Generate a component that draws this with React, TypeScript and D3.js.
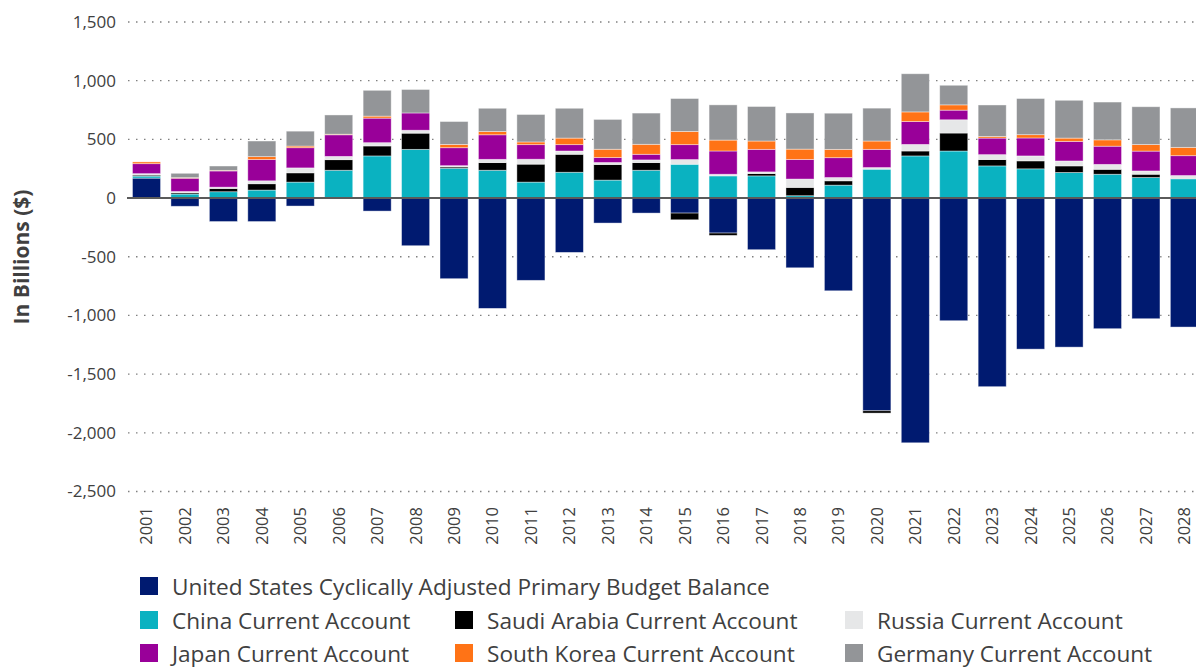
import React from "react";
import * as d3 from "d3";

const width = 1196;
const height = 668;

const years = d3.range(2001, 2029).map(String);

const seriesNames = [
  "United States Cyclically Adjusted Primary Budget Balance",
  "China Current Account",
  "Saudi Arabia Current Account",
  "Russia Current Account",
  "Japan Current Account",
  "South Korea Current Account",
  "Germany Current Account",
];

const colors = ["#001a70", "#0ab2c1", "#000000", "#e6e7e8", "#990099", "#ff7316", "#939598"];

const usBalance = [170, -70, -200, -200, -68, 0, -111, -406, -687, -940, -701, -463, -213, -128, -128, -298, -440, -594, -790, -1812, -2085, -1045, -1607, -1287, -1270, -1113, -1028, -1099];
const china = [17, 34, 54, 68, 136, 237, 359, 415, 254, 237, 136, 220, 153, 237, 288, 189, 189, 20, 110, 246, 359, 401, 274, 249, 218, 203, 175, 164];
const saudi = [9, 11, 28, 54, 79, 90, 85, 138, 11, 65, 153, 153, 133, 65, -57, -20, 20, 71, 37, -20, 42, 153, 54, 68, 56, 42, 28, 3];
const russia = [12, 11, 11, 25, 42, 28, 28, 25, 11, 28, 42, 28, 17, 23, 40, 14, 14, 71, 28, 14, 56, 113, 42, 42, 42, 42, 28, 25];
const japan = [85, 113, 138, 181, 172, 184, 209, 147, 153, 209, 124, 54, 42, 48, 127, 198, 192, 167, 169, 155, 195, 82, 141, 153, 167, 155, 169, 169];
const korea = [15, 5, 5, 25, 14, 5, 17, 0, 28, 28, 23, 56, 71, 85, 113, 93, 71, 88, 71, 71, 82, 45, 14, 28, 28, 54, 56, 71];
const germany = [0, 37, 37, 133, 127, 164, 220, 200, 195, 198, 234, 254, 254, 266, 280, 300, 294, 308, 308, 280, 325, 167, 268, 308, 322, 322, 322, 336];

const yTicks = [1500, 1000, 500, 0, -500, -1000, -1500, -2000, -2500];

const allSeries = [usBalance, china, saudi, russia, japan, korea, germany];

// legend rows: series indexes per row, one per column
const legendRows = [[0], [1, 2, 3], [4, 5, 6]];

const font = "'Open Sans', 'Noto Sans', sans-serif";
const textColor = "#404040";

export default function App() {
  const rows = years.map((y, i) => {
    const r: any = { year: y };
    seriesNames.forEach((k, j) => (r[k] = allSeries[j][i]));
    return r;
  });

  const stacked = d3.stack().keys(seriesNames).offset(d3.stackOffsetDiverging)(rows);

  const x = d3
    .scaleBand()
    .domain(years)
    .range([127.3, 1203.6])
    .paddingInner(0.27)
    .paddingOuter(0.135);

  const y = d3.scaleLinear().domain([-2500, 1500]).range([491.5, 22]);

  const colX = [140, 455, 845];
  const rowY = [577, 611, 644];

  return (
    <div style={{ position: "absolute", left: 0, top: 0 }}>
      <svg width={width} height={height} style={{ display: "block", fontFamily: font }}>
        {/* grid */}
        {yTicks.filter(t => t !== 0).map(t => (
          <line key={t} x1={128} x2={width} y1={y(t)} y2={y(t)}
            stroke="#808080" strokeWidth={1.3} strokeDasharray="1.5 6.5" />
        ))}
        {yTicks.map(t => (
          <text key={"l" + t} x={116} y={y(t)} dy="0.35em" textAnchor="end"
            fontSize={17} fill={textColor}>
            {d3.format(",")(t).replace("−", "-")}
          </text>
        ))}

        {/* bars */}
        {stacked.map((s, si) => (
          <g key={s.key} fill={colors[si]}>
            {s.map((d, i) => {
              const top = y(Math.max(d[0], d[1]));
              const h = Math.abs(y(d[0]) - y(d[1]));
              if (h <= 0) return null;
              return (
                <rect key={i} x={x(years[i])} y={top} width={x.bandwidth()} height={h}
                  stroke="#ffffff" strokeOpacity={0.5} strokeWidth={0.8} />
              );
            })}
          </g>
        ))}

        <line x1={127} x2={width} y1={y(0)} y2={y(0)} stroke="#5a5a5a" strokeWidth={2} />

        {/* x labels */}
        {years.map(yr => (
          <text key={yr} transform={`translate(${x(yr)! + x.bandwidth() / 2},507) rotate(-90)`}
            textAnchor="end" dy="0.36em" fontSize={16.5} fill={textColor}>
            {yr}
          </text>
        ))}

        <text transform="translate(21,257) rotate(-90)" textAnchor="middle" dominantBaseline="central"
          fontSize={21} fontWeight="bold" fill={textColor}>
          In Billions ($)
        </text>

        {/* legend */}
        {legendRows.map((row, ri) =>
          row.map((si, ci) => (
            <g key={si} transform={`translate(${colX[ci]},${rowY[ri]})`}>
              <rect width={18} height={18} fill={colors[si]} />
              <text x={32} y={9} dominantBaseline="central" fontSize={22.6} fill={textColor}>
                {seriesNames[si]}
              </text>
            </g>
          ))
        )}
      </svg>
    </div>
  );
}
